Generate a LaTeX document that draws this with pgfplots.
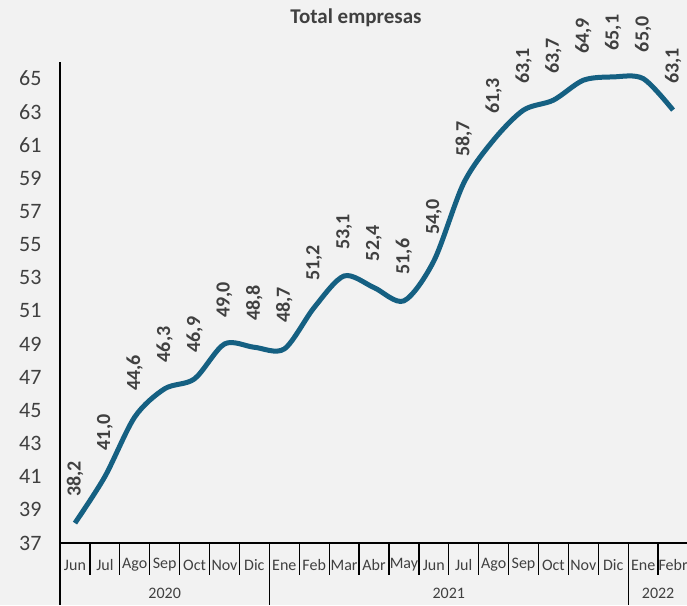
\documentclass[border=0pt]{standalone}
\usepackage{pgfplots}
\pgfplotsset{compat=1.18}
\usepackage{fontspec}
\setmainfont{Carlito}
\definecolor{linec}{HTML}{156082}
\definecolor{txt}{HTML}{404040}
\definecolor{bg}{HTML}{F2F2F2}
\begin{document}
\begin{tikzpicture}
\fill[bg] (-60pt,-62pt) rectangle (627pt,543pt);
\begin{axis}[
  scale only axis, width=628pt, height=481pt,
  xmin=-0.5, xmax=20.5, ymin=37, ymax=66,
  axis x line=bottom, axis y line=left,
  axis line style={-, line width=1.3pt, black},
  xtick=\empty,
  ytick={37,39,...,65},
  major tick length=0pt,
  /pgf/number format/assume math mode=true,
  yticklabel style={font=\fontsize{22}{22}\selectfont, text=txt, xshift=-15pt},
  clip=false,
  nodes near coords={\pgfmathprintnumber[fixed,fixed zerofill,precision=1,use comma]{\pgfplotspointmeta}},
  nodes near coords style={font=\bfseries\fontsize{20}{20}\selectfont, text=txt, rotate=90, anchor=west, inner sep=0pt, xshift=24pt},
]
\addplot[linec, line width=5pt, smooth, tension=0.5] coordinates {
(0,38.2) (1,41.0) (2,44.6) (3,46.3) (4,46.9) (5,49.0) (6,48.8)
(7,48.7) (8,51.2) (9,53.1) (10,52.4) (11,51.6) (12,54.0) (13,58.7)
(14,61.3) (15,63.1) (16,63.7) (17,64.9) (18,65.1) (19,65.0) (20,63.1)
};
\end{axis}
\foreach \i in {0,...,21} \draw[line width=1.3pt, black] (\i*29.905pt,0pt) -- (\i*29.905pt,-32pt);
\foreach \i in {0,7,19} \draw[line width=1.3pt, black] (\i*29.905pt,0pt) -- (\i*29.905pt,-62pt);
\foreach \m [count=\i from 0] in {Jun,Jul,Ago,Sep,Oct,Nov,Dic,Ene,Feb,Mar,Abr,May,Jun,Jul,Ago,Sep,Oct,Nov,Dic,Ene,Febr}
  \node[font=\fontsize{16}{16}\selectfont, text=txt, inner sep=0pt] at ({(\i+0.5)*29.905pt}, -22pt) {\m};
\node[font=\fontsize{16}{16}\selectfont, text=txt] at (104.7pt,-50pt) {2020};
\node[font=\fontsize{16}{16}\selectfont, text=txt] at (388.8pt,-50pt) {2021};
\node[font=\fontsize{16}{16}\selectfont, text=txt] at (598.1pt,-50pt) {2022};
\node[font=\bfseries\fontsize{21}{21}\selectfont, text=txt] at (296pt,525pt) {Total empresas};
\pgfresetboundingbox
\useasboundingbox (-60pt,-62pt) rectangle (627pt,543pt);
\end{tikzpicture}
\end{document}
